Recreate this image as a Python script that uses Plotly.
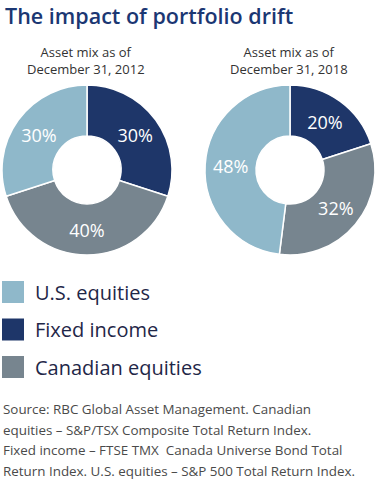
import plotly.graph_objects as go

categories = ["Fixed income", "Canadian equities", "U.S. equities"]
values_2012 = [30, 40, 30]
values_2018 = [20, 32, 48]
colors = ["#1E3669", "#77858F", "#8FB8CA"]
legend_order = ["U.S. equities", "Fixed income", "Canadian equities"]
subtitles = ["Asset mix as of<br>December 31, 2012", "Asset mix as of<br>December 31, 2018"]
title = "The impact of portfolio drift"
source_lines = [
    "Source: RBC Global Asset Management. Canadian",
    "equities – S&P/TSX Composite Total Return Index.",
    "Fixed income – FTSE TMX  Canada Universe Bond Total",
    "Return Index. U.S. equities – S&P 500 Total Return Index.",
]

W, H = 380, 486
FONT = "Open Sans"

def px(x):
    return x / W

def py(y):
    return 1 - y / H

fig = go.Figure()
domains = [(2, 172), (205, 375)]
for vals, (x0, x1) in zip([values_2012, values_2018], domains):
    fig.add_trace(go.Pie(
        labels=categories, values=vals, sort=False, direction="clockwise", rotation=0,
        hole=0.4, marker=dict(colors=colors, line=dict(color="white", width=1.5)),
        texttemplate="%{value}%", textposition="inside", insidetextorientation="horizontal",
        textfont=dict(family=FONT, size=18, color="white"),
        domain=dict(x=[px(x0), px(x1)], y=[py(255), py(85)]),
        showlegend=False, hoverinfo="label+value",
    ))

annotations = [
    dict(text=title, x=px(3), y=py(15), xref="paper", yref="paper", xanchor="left", yanchor="middle",
         showarrow=False, font=dict(family=FONT, size=21.5, color="#1B3773", weight=600)),
]
for sub, cx in zip(subtitles, [86, 289]):
    annotations.append(dict(text=sub, x=px(cx), y=py(60), xref="paper", yref="paper",
                            xanchor="center", yanchor="middle", showarrow=False,
                            font=dict(family=FONT, size=13, color="#333333")))

shapes = []
color_map = dict(zip(categories, colors))
for i, cat in enumerate(legend_order):
    cy = 292 + i * 37.5
    shapes.append(dict(type="rect", xref="paper", yref="paper",
                       x0=px(2), x1=px(24), y0=py(cy - 11), y1=py(cy + 11),
                       fillcolor=color_map[cat], line=dict(width=0)))
    annotations.append(dict(text=cat, x=px(33), y=py(cy), xref="paper", yref="paper",
                            xanchor="left", yanchor="middle", showarrow=False,
                            font=dict(family=FONT, size=20, color="#1F2748")))

for i, line in enumerate(source_lines):
    annotations.append(dict(text=line, x=px(1), y=py(409 + i * 20.7), xref="paper", yref="paper",
                            xanchor="left", yanchor="middle", showarrow=False,
                            font=dict(family=FONT, size=13.4, color="#4A4A4A")))

fig.update_layout(width=W, height=H, margin=dict(l=0, r=0, t=0, b=0),
                  paper_bgcolor="white", plot_bgcolor="white",
                  annotations=annotations, shapes=shapes)
fig.write_html("out.html", config={"displayModeBar": False},
               post_script="document.body.style.margin='0';document.body.style.overflow='hidden';")
